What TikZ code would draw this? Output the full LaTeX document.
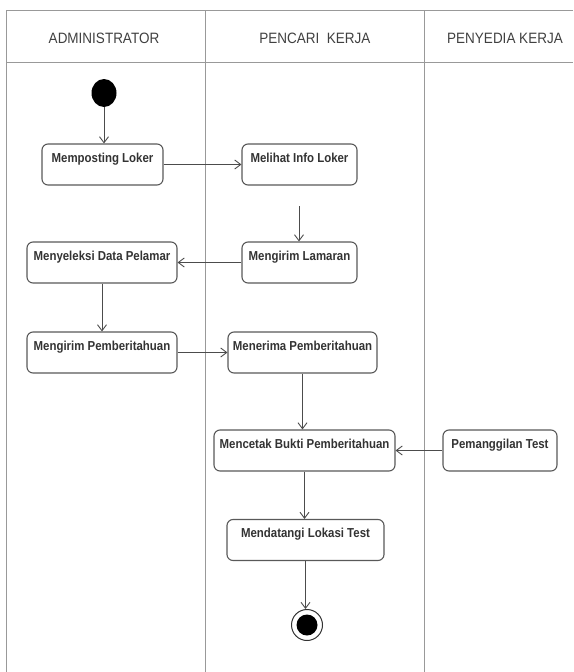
\documentclass[tikz,border=0pt]{standalone}
\usepackage{fontspec}
\setmainfont{Liberation Sans}
\newfontfamily\actfont[FakeStretch=0.88]{Liberation Sans}
\newfontfamily\lanefont[FakeStretch=0.9]{Liberation Sans}
\usetikzlibrary{arrows.meta}
\usetikzlibrary{shapes}

\begin{document}
\begin{tikzpicture}[x = 1pt, y = -1pt]
\tikzstyle{LaneLine}=[draw = black!40, line width = 1pt]
\tikzstyle{LaneTitle}=[anchor = base, inner sep = 0pt, text = black!75,
font = \lanefont\fontsize{15}{15}\selectfont]
\tikzstyle{Activity}=[shape = rectangle, rounded corners = 6pt, draw = black!65,
line width = 1.1pt, fill = white, inner xsep = 3pt, inner ysep = 0pt,
text height = 18pt, text depth = 23pt, text = black!80,
font = \actfont\bfseries\fontsize{13}{13}\selectfont]
\tikzstyle{Flow}=[draw = black!70, line width = 0.9pt,
-{Straight Barb[length = 6pt, width = 9pt]}]
\useasboundingbox (0, 0) rectangle (573, 672);
\draw[LaneLine] (6, 672) -- (6, 10) -- (573, 10);
\draw[LaneLine] (6, 62) -- (573, 62);
\draw[LaneLine] (205, 10) -- (205, 672);
\draw[LaneLine] (424, 10) -- (424, 672);
\node[LaneTitle] (admin) at (104, 43.3) {ADMINISTRATOR};
\node[LaneTitle] (pencari) at (315, 43.3) {PENCARI~~KERJA};
\node[LaneTitle] (penyedia) at (505, 43.3) {PENYEDIA KERJA};
\node[shape = ellipse, fill = black, minimum width = 25pt, minimum height = 28pt,
inner sep = 0pt] (start) at (104, 93) {};
\node[Activity, minimum width = 121pt] (memposting) at (102.5, 164.5) {Memposting Loker};
\node[Activity, minimum width = 115pt] (melihat) at (299.5, 164.5) {Melihat Info Loker};
\node[Activity, minimum width = 115pt] (lamaran) at (299.5, 262.5) {Mengirim Lamaran};
\node[Activity, minimum width = 150pt] (menyeleksi) at (102, 262.5) {Menyeleksi Data Pelamar};
\node[Activity, minimum width = 150pt] (kirimpemb) at (102, 352.5) {Mengirim Pemberitahuan};
\node[Activity, minimum width = 149pt] (terima) at (302.5, 352.5) {Menerima Pemberitahuan};
\node[Activity, minimum width = 181pt] (cetak) at (304.5, 450.5) {Mencetak Bukti Pemberitahuan};
\node[Activity, minimum width = 114pt] (panggil) at (500, 450.5) {Pemanggilan Test};
\node[Activity, minimum width = 157pt] (datang) at (305.5, 540) {Mendatangi Lokasi Test};
\node[shape = circle, draw = black!80, line width = 1pt, minimum size = 31pt,
inner sep = 0pt, path picture = {\fill[black] (path picture bounding box.center)
circle (10.5pt);}] (finish) at (307, 625) {};
\coordinate (gap) at (299, 206);
\draw[Flow] (start) -- (start |- memposting.north);
\draw[Flow] (memposting) -- (melihat);
\draw[Flow] (gap) -- (gap |- lamaran.north);
\draw[Flow] (lamaran) -- (menyeleksi);
\draw[Flow] (menyeleksi) -- (menyeleksi |- kirimpemb.north);
\draw[Flow] (kirimpemb) -- (terima);
\draw[Flow] (terima) -- (terima |- cetak.north);
\draw[Flow] (panggil) -- (cetak);
\draw[Flow] (cetak) -- (cetak |- datang.north);
\draw[Flow] (datang) -- (datang |- finish.north);
\end{tikzpicture}
\end{document}
